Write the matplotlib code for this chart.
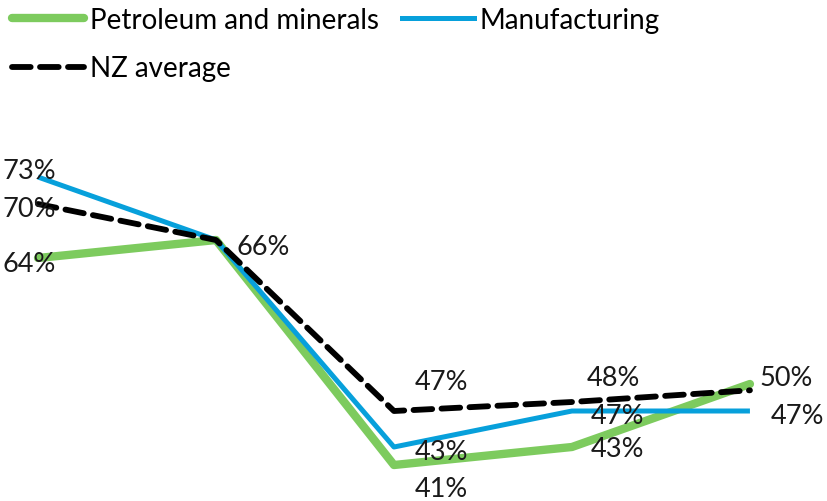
import matplotlib.pyplot as plt
from matplotlib.lines import Line2D

plt.rcParams['font.family'] = ['Lato', 'DejaVu Sans']

periods = [0, 1, 2, 3, 4]
petroleum = [64, 66, 41, 43, 50]
manufacturing = [73, 66, 43, 47, 47]
nz_average = [70, 66, 47, 48, 49.3]

petroleum_labels = ['64%', None, '41%', '43%', '50%']
manufacturing_labels = ['73%', None, '43%', '47%', '47%']
nz_labels = ['70%', '66%', '47%', '48%', None]

green = '#7DCB5E'
blue = '#07A0DB'

fig = plt.figure(figsize=(8.27, 5.02), dpi=100)
ax = fig.add_axes([0, 0, 1, 1])
ax.set_xlim(-0.2135, 4.433)
ax.set_ylim(37, 92.78)
ax.axis('off')

ax.plot(periods, petroleum, color=green, lw=6, solid_capstyle='round',
        solid_joinstyle='round', zorder=2)
ax.plot(periods, manufacturing, color=blue, lw=3.6, solid_capstyle='butt',
        solid_joinstyle='round', zorder=3)
ax.plot(periods, nz_average, color='black', lw=4.2, dashes=(3.2, 1.6),
        dash_capstyle='round', zorder=4)

# label offsets in points (dx, dy) for each series and period
pet_off = [(-6, -4), None, (34, -17), (33, -1), (26, 5)]
man_off = [(-6, 5), None, (34, -3), (33, -3), (34, -3)]
nz_off = [(-6, -3), (34, -5), (34, 21), (30, 18), None]

for vals, labs, offs in [(petroleum, petroleum_labels, pet_off),
                         (manufacturing, manufacturing_labels, man_off),
                         (nz_average, nz_labels, nz_off)]:
    for x, v, lab, off in zip(periods, vals, labs, offs):
        if lab is None:
            continue
        ax.annotate(lab, (x, v), xytext=off, textcoords='offset points',
                    ha='center', va='center', fontsize=19.5, color='#1a1a1a',
                    zorder=5)

handles = [Line2D([], [], color=green, lw=6, solid_capstyle='round'),
           Line2D([], [], color='black', lw=4.2, dashes=(3.2, 1.6),
                  dash_capstyle='round'),
           Line2D([], [], color=blue, lw=3.6)]
names = ['Petroleum and minerals', 'NZ average', 'Manufacturing']
fig.legend(handles, names, loc='upper left', bbox_to_anchor=(-0.002, 1.012),
           ncol=2, frameon=False, fontsize=20, handlelength=2.6,
           handletextpad=0.2, columnspacing=0.83, labelspacing=0.81,
           borderaxespad=0.1)

fig.savefig('out.png', dpi=100)
